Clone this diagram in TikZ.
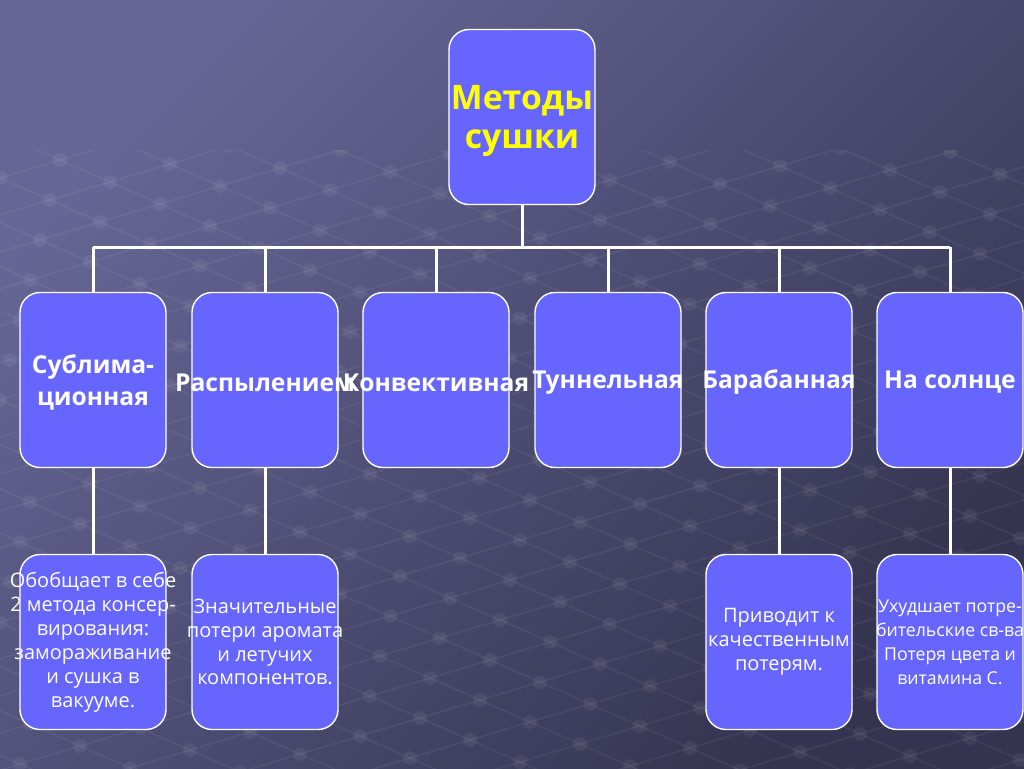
\documentclass[tikz,border=0pt]{standalone}
\usepackage{fontspec}
\setmainfont{Open Sans}
\usetikzlibrary{positioning}
\definecolor{bgtop}{RGB}{102,102,150}
\definecolor{bgbot}{RGB}{52,52,80}
\definecolor{boxfill}{RGB}{102,102,255}
\definecolor{titleyellow}{RGB}{255,255,0}

\begin{document}
\begin{tikzpicture}[x=0.25mm, y=-0.25mm,
    block/.style={draw=white, line width=0.35mm, rounded corners=5mm, fill=boxfill,
                  minimum width=36.5mm, minimum height=43.75mm, inner sep=0pt},
    headtext/.style={align=center, text=white, yshift=-0.6mm,
                     font=\bfseries\fontsize{17.5}{22.8}\selectfont},
    notetext/.style={align=center, text=white, font=\fontsize{14.2}{17}\selectfont},
    head/.style={block, label={[headtext]center:#1}},
    note/.style={block, label={[notetext]center:#1}},
    link/.style={draw=white, line width=0.75mm}]
    % background
    \shade[top color=bgtop, bottom color=bgbot, shading angle=45] (0,0) rectangle (1024,768);
    \useasboundingbox (0,0) rectangle (1024,768);
    \begin{scope}
        \clip (0,150) rectangle (1024,768);
        \foreach \j in {-12,...,20}
            \draw[white, opacity=0.06, line width=0.4mm] ({-600+50*\j},{580+22*\j}) -- ({1500+50*\j},{-50+22*\j});
        \foreach \i in {-10,...,25}
            \draw[white, opacity=0.06, line width=0.4mm] ({60*\i-600},{400-18*\i-264}) -- ({60*\i+1000},{400-18*\i+440});
        \foreach \i in {-10,...,25}
            \foreach \j in {-12,...,20}
                \fill[white, opacity=0.06] ({60*\i+50*\j},{400-18*\i+22*\j}) circle (7);
    \end{scope}

    % root
    \node[block, align=center, text=titleyellow, font=\bfseries\fontsize{24}{28}\selectfont] (root) at (522,117) {};
    \node[align=center, text=titleyellow, font=\bfseries\fontsize{24}{28}\selectfont] (roottext) at (522,121) {Методы\\сушки};

    % methods
    \node[head={Сублима-\\ционная}] (sub)  at (93,380)  {};
    \node[head={Распылением}]      (spray)  at (265,380) {};
    \node[head={Конвективная}]     (conv)   at (436,380) {};
    \node[head={Туннельная}]       (tunnel) at (608,380) {};
    \node[head={Барабанная}]       (drum)   at (779,380) {};
    \node[head={На солнце}]        (sun)    at (950,380) {};

    % notes
    \node[note={Обобщает в себе\\2 метода консер-\\вирования:\\замораживание\\и сушка в\\вакууме.}] (subnote) at (93,642) {};
    \node[note={Значительные\\потери аромата\\и летучих\\компонентов.}] (spraynote) at (265,642) {};
    \node[note={Приводит к\\качественным\\потерям.}] (drumnote) at (779,642) {};
    \node[block, label={[notetext, font=\fontsize{12.6}{17}\selectfont]center:Ухудшает потре-\\бительские св-ва\\Потеря цвета и\\витамина С.}] (sunnote) at (950,642) {};

    % links
    \coordinate (bus) at (522,247);
    \draw[link] (root.south) -- (bus);
    \draw[link] (sub.north |- bus) -- (sun.north |- bus);
    \foreach \n in {sub, spray, conv, tunnel, drum, sun}
        \draw[link] (\n.north |- bus) -- (\n.north);
    \foreach \a/\b in {sub/subnote, spray/spraynote, drum/drumnote, sun/sunnote}
        \draw[link] (\a.south) -- (\b.north);
\end{tikzpicture}
\end{document}
